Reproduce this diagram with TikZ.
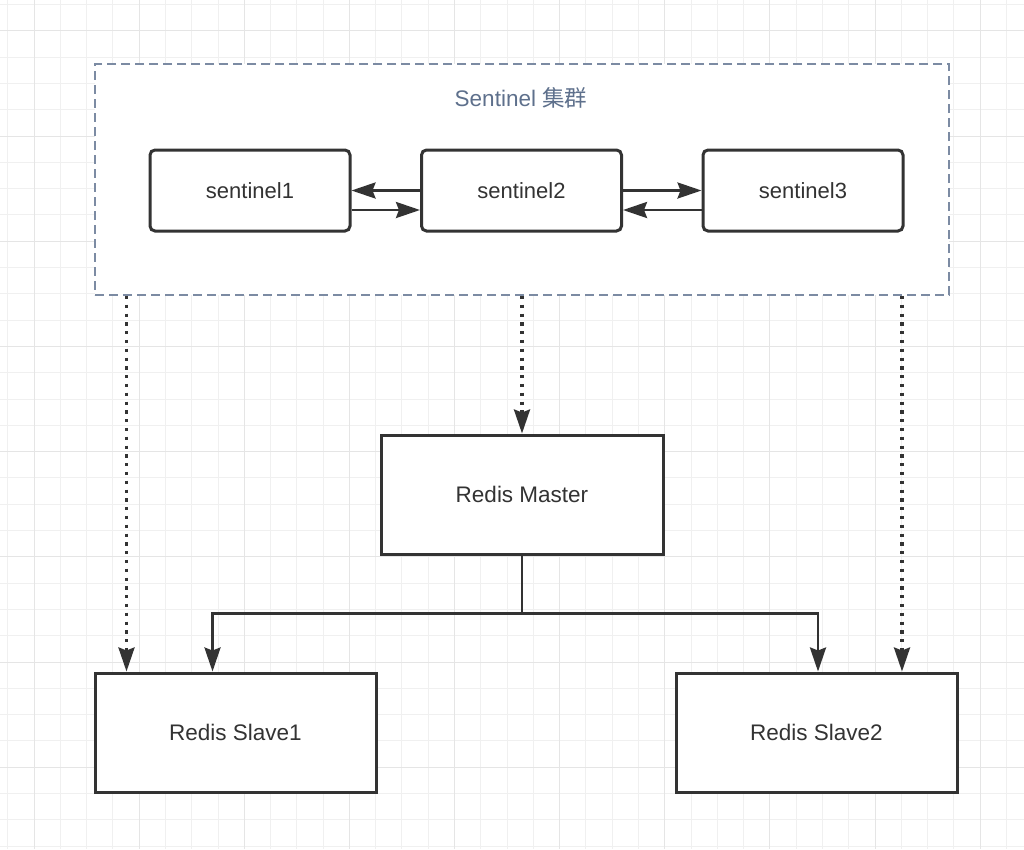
\documentclass[tikz,border=0pt]{standalone}
\usepackage{fontspec}
\setmainfont{Liberation Sans}
\newfontfamily\cjk{Noto Sans CJK SC}
\usetikzlibrary{arrows.meta}
\definecolor{gridfine}{RGB}{240,240,240}
\definecolor{gridbold}{RGB}{229,229,229}
\definecolor{ink}{RGB}{51,51,51}
\definecolor{clusterline}{RGB}{124,139,163}
\definecolor{titlecol}{RGB}{94,112,140}
\tikzset{
  box/.style={draw=ink, line width=3pt, fill=white, text=ink, font=\fontsize{22.5}{26}\selectfont, inner sep=0pt},
  sbox/.style={box, rounded corners=5pt, minimum width=200pt, minimum height=81pt},
  rbox/.style={box, minimum width=281pt, minimum height=119pt},
  tip/.style={-{Stealth[length=24pt, width=16pt, inset=3pt]}},
  conn/.style={draw=ink, line width=2.8pt},
  arr/.style={conn, tip},
  dotarr/.style={conn, tip, line width=3.2pt, dash pattern=on 3.2pt off 5.6pt},
}
\begin{document}
\begin{tikzpicture}[x=1pt,y=-1pt]
\useasboundingbox (0,0) rectangle (1024,849);
\fill[white] (0,0) rectangle (1024,849);
% grid
\foreach \k in {0,...,38}{
  \pgfmathsetmacro\gx{round(7.3+26.28*\k)+0.5}
  \draw[gridfine, line width=1pt] (\gx,0) -- (\gx,849);
}
\foreach \k in {0,...,32}{
  \pgfmathsetmacro\gy{round(4+26.3*\k)+0.5}
  \draw[gridfine, line width=1pt] (0,\gy) -- (1024,\gy);
}
\foreach \k in {1,5,...,37}{
  \pgfmathsetmacro\gx{round(7.3+26.28*\k)+0.5}
  \draw[gridbold, line width=1pt] (\gx,0) -- (\gx,849);
}
\foreach \k in {1,5,...,29}{
  \pgfmathsetmacro\gy{round(4+26.3*\k)+0.5}
  \draw[gridbold, line width=1pt] (0,\gy) -- (1024,\gy);
}
% cluster
\node[draw=clusterline, fill=white, line width=1.8pt, dash pattern=on 9pt off 5pt,
      minimum width=854pt, minimum height=231pt, inner sep=0pt] (cl) at (522,179.5) {};
\node[text=titlecol, font=\fontsize{22.5}{26}\selectfont, inner sep=0pt] (title) at (521,98) {Sentinel {\cjk 集群}};
% sentinels
\node[sbox, font=\fontsize{22}{26}\selectfont] (s1) at (250,190.5) {sentinel1};
\node[sbox, font=\fontsize{22}{26}\selectfont] (s2) at (521.5,190.5) {sentinel2};
\node[sbox, font=\fontsize{22}{26}\selectfont] (s3) at (803,190.5) {sentinel3};
% redis nodes
\node[rbox, minimum width=282pt] (ma) at (522,494.5) {Redis Master};
\node[rbox] (sl1) at (235.5,732.5) {Redis Slave1};
\node[rbox] (sl2) at (816.5,732.5) {Redis Slave2};
% sentinel arrows
\draw[arr] (s2.west) -- (s1.east);
\draw[arr] ([yshift=-19.5pt]s1.east) -- ([yshift=-19.5pt]s2.west);
\draw[arr] (s2.east) -- (s3.west);
\draw[arr] ([yshift=-19.5pt]s3.west) -- ([yshift=-19.5pt]s2.east);
% dotted monitors
\coordinate (d1) at (126.5,295);
\coordinate (d3) at (902,295);
\draw[dotarr] (cl.south -| d1) -- (sl1.north -| d1);
\draw[dotarr] (cl.south -| ma.north) -- (ma.north);
\draw[dotarr] (cl.south -| d3) -- (sl2.north -| d3);
% replication tree
\coordinate (j) at (522,613.5);
\coordinate (b1) at (212.5,613.5);
\coordinate (b2) at (818,613.5);
\draw[conn, line join=miter] (ma.south) -- (j);
\draw[arr, line join=miter] (j) -- (b1) -- (sl1.north -| b1);
\draw[arr, line join=miter] (j) -- (b2) -- (sl2.north -| b2);
\end{tikzpicture}
\end{document}
